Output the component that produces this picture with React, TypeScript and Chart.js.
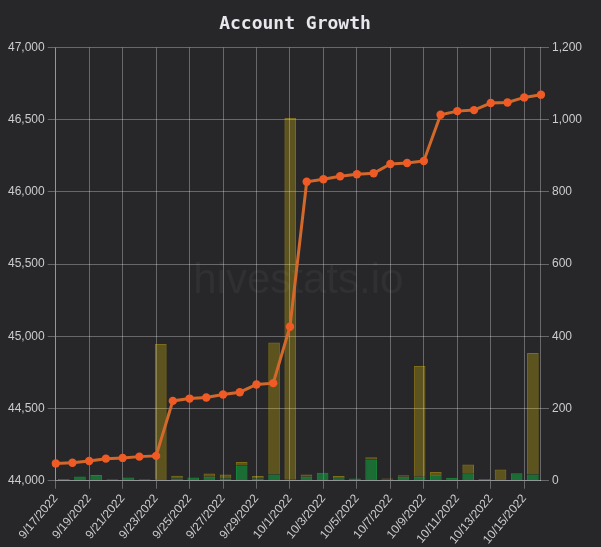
import React, { useEffect, useRef } from "react";
import { Chart, registerables } from "chart.js";

Chart.register(...registerables);

const dates = [
  "9/17/2022", "9/18/2022", "9/19/2022", "9/20/2022", "9/21/2022", "9/22/2022",
  "9/23/2022", "9/24/2022", "9/25/2022", "9/26/2022", "9/27/2022", "9/28/2022",
  "9/29/2022", "9/30/2022", "10/1/2022", "10/2/2022", "10/3/2022", "10/4/2022",
  "10/5/2022", "10/6/2022", "10/7/2022", "10/8/2022", "10/9/2022", "10/10/2022",
  "10/11/2022", "10/12/2022", "10/13/2022", "10/14/2022", "10/15/2022", "10/16/2022",
];

const accounts = [
  44120, 44125, 44137, 44153, 44158, 44167, 44172, 44553, 44569, 44576,
  44597, 44613, 44667, 44676, 45067, 46071, 46088, 46109, 46123, 46130,
  46194, 46201, 46215, 46535, 46560, 46567, 46616, 46620, 46655, 46674,
];

const greenBars = [
  5, 12, 16, 4, 9, 4, 5, 6, 9, 11,
  6, 42, 6, 17, 4, 11, 22, 7, 6, 59,
  3, 11, 11, 16, 8, 21, 5, 5, 21, 17,
];

const yellowBars = [
  0, 0, 0, 0, 0, 0, 374, 8, 0, 9,
  11, 10, 7, 366, 1001, 6, 0, 6, 0, 6,
  3, 4, 307, 8, 0, 24, 0, 26, 0, 337,
];

const leftTicks = [44000, 44500, 45000, 45500, 46000, 46500, 47000];
const rightTicks = [0, 200, 400, 600, 800, 1000, 1200];

const watermark = {
  id: "watermark",
  beforeDatasetsDraw(chart: any) {
    const { ctx, chartArea } = chart;
    ctx.save();
    ctx.font = "42px 'Liberation Sans', Arial, sans-serif";
    ctx.fillStyle = "rgba(255,255,255,0.045)";
    ctx.textAlign = "center";
    ctx.textBaseline = "middle";
    ctx.fillText(
      "hivestats.io",
      (chartArea.left + chartArea.right) / 2,
      (chartArea.top + chartArea.bottom) / 2 + 17
    );
    ctx.restore();
  },
};

const bgPlugin = {
  id: "bg",
  beforeDraw(chart: any) {
    const { ctx, width, height } = chart;
    ctx.save();
    ctx.fillStyle = "#27272a";
    ctx.fillRect(0, 0, width, height);
    ctx.restore();
  },
};

export default function App() {
  const ref = useRef<HTMLCanvasElement | null>(null);

  useEffect(() => {
    document.body.style.margin = "0";
    document.body.style.background = "#27272a";
    const gridColor = "rgba(255,255,255,0.3)";
    const tickFont = { family: "'Liberation Sans', Arial, sans-serif", size: 12 };
    const chart = new Chart(ref.current as HTMLCanvasElement, {
      type: "bar",
      data: {
        labels: dates,
        datasets: [
          {
            type: "line",
            label: "Accounts",
            data: accounts,
            xAxisID: "x",
            yAxisID: "y",
            borderColor: "#d2692a",
            backgroundColor: "#f05a24",
            pointBackgroundColor: "#f05a24",
            pointBorderColor: "#f05a24",
            pointBorderWidth: 0,
            borderWidth: 3,
            pointRadius: 4.2,
            tension: 0,
            order: 0,
          } as any,
          {
            type: "bar",
            label: "New",
            data: greenBars,
            xAxisID: "x2",
            yAxisID: "y1",
            backgroundColor: "rgba(16,180,64,0.5)",
            borderColor: "rgba(16,180,64,0.7)",
            borderWidth: 1,
            stack: "s",
            grouped: false,
            order: 1,
          },
          {
            type: "bar",
            label: "Other",
            data: yellowBars,
            xAxisID: "x2",
            yAxisID: "y1",
            backgroundColor: "rgba(255,215,0,0.25)",
            borderColor: "rgba(255,215,0,0.4)",
            borderWidth: 1,
            stack: "s",
            grouped: false,
            order: 2,
          },
        ],
      },
      options: {
        animation: false,
        responsive: false,
        maintainAspectRatio: false,
        layout: { padding: { left: 5, right: 16, top: 0, bottom: -3 } },
        plugins: {
          legend: { display: false },
          tooltip: { enabled: false },
          title: {
            display: true,
            text: "Account Growth",
            color: "#e8e8ec",
            font: { family: "'DejaVu Sans Mono', monospace", size: 18, weight: "bold" },
            padding: { top: 14, bottom: 12 },
          },
        },
        scales: {
          x: {
            type: "category",
            offset: false,
            grid: { color: gridColor, offset: false },
            border: { color: gridColor },
            ticks: {
              color: "#cccccc",
              font: tickFont,
              autoSkip: true,
              maxTicksLimit: 15,
              maxRotation: 50,
              minRotation: 50,
            },
          },
          x2: {
            type: "category",
            display: false,
            offset: true,
            stacked: true,
            grid: { offset: true },
          },
          y: {
            position: "left",
            min: 44000,
            max: 47000,
            afterBuildTicks: (axis: any) => {
              axis.ticks = leftTicks.map((v) => ({ value: v }));
            },
            grid: { color: gridColor },
            border: { color: gridColor },
            ticks: {
              color: "#cccccc",
              font: tickFont,
              callback: (v: any) => Number(v).toLocaleString("en-US"),
            },
          },
          y1: {
            position: "right",
            min: 0,
            max: 1200,
            stacked: true,
            afterBuildTicks: (axis: any) => {
              axis.ticks = rightTicks.map((v) => ({ value: v }));
            },
            grid: { color: gridColor, drawOnChartArea: false },
            border: { color: gridColor },
            ticks: {
              color: "#cccccc",
              font: tickFont,
              callback: (v: any) => Number(v).toLocaleString("en-US"),
            },
          },
        },
      },
      plugins: [bgPlugin, watermark],
    } as any);
    return () => chart.destroy();
  }, []);

  return (
    <div style={{ width: 601, height: 547, background: "#27272a" }}>
      <canvas ref={ref} width={601} height={547} style={{ display: "block" }} />
    </div>
  );
}
